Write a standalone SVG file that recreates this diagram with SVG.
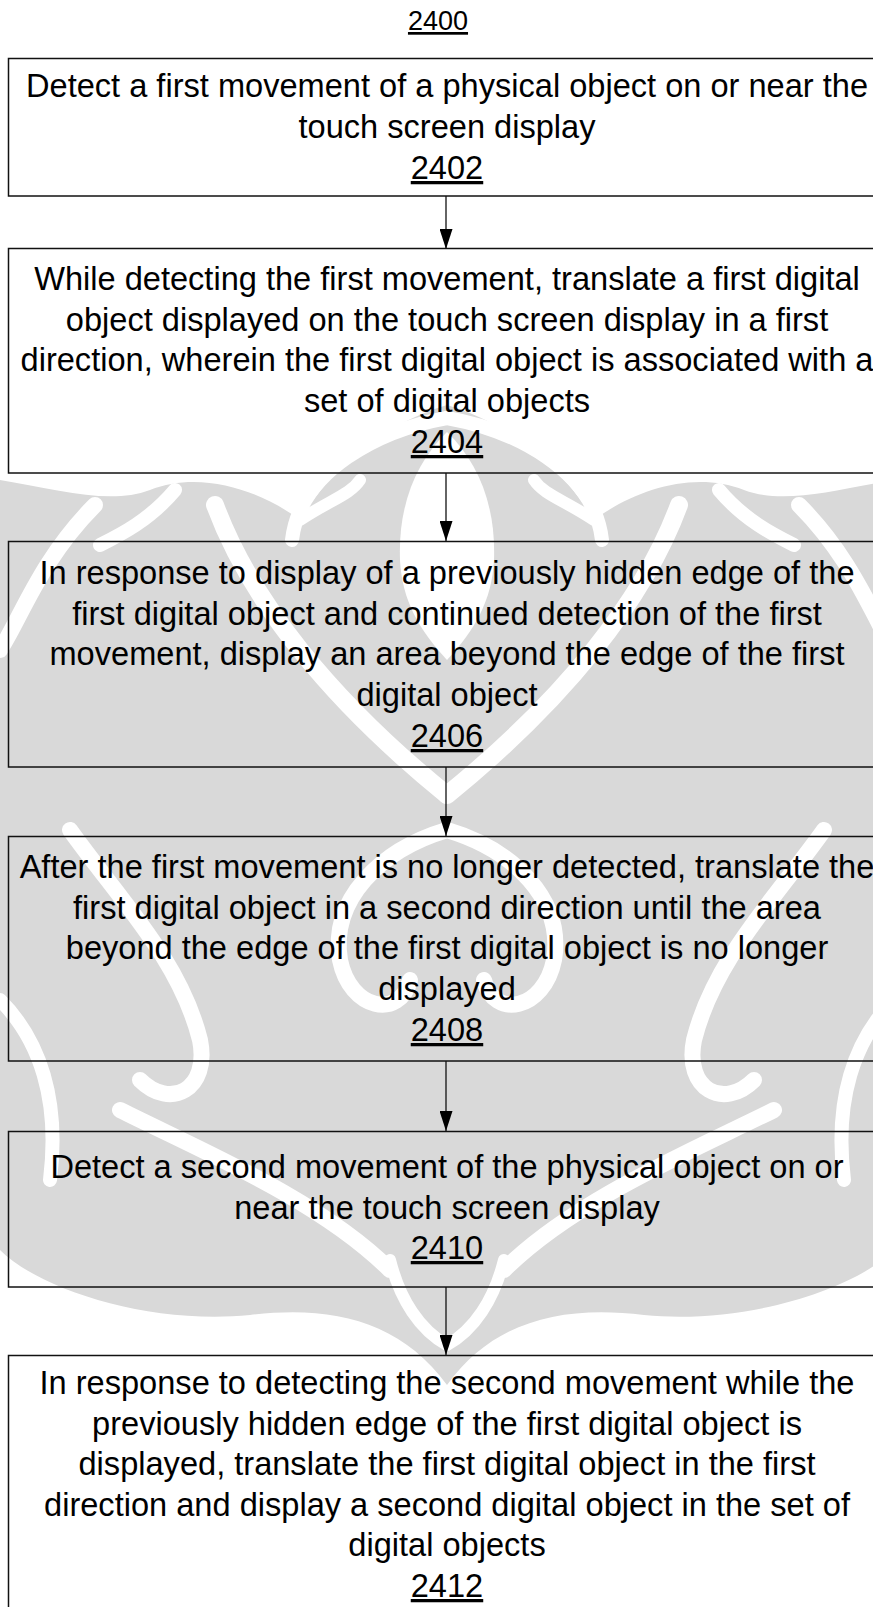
<svg xmlns="http://www.w3.org/2000/svg" xmlns:xlink="http://www.w3.org/1999/xlink" width="873" height="1607" viewBox="0 0 873 1607">
  <style>
    .box { fill: none; stroke: #111; stroke-width: 1.5; }
    .txt { font-family: "Liberation Sans", Arial, sans-serif; font-size: 32.6px; fill: #000; text-anchor: middle; }
    .num { text-decoration: underline; }
    .title { font-family: "Liberation Sans", Arial, sans-serif; font-size: 27px; fill: #000; text-anchor: middle; text-decoration: underline; }
    .conn { stroke: #111; stroke-width: 1.3; fill: none; }
    .wm { fill: #d9d9d9; }
    .wmcut { fill: none; stroke: #fff; stroke-linecap: round; }
  </style>
  <defs>
    <marker id="arrow" viewBox="0 0 20 13" refX="20" refY="6.5" markerWidth="20" markerHeight="13" markerUnits="userSpaceOnUse" orient="auto">
      <path d="M0,0 L20,6.5 L0,13 Z" fill="#000"/>
    </marker>
    <!-- left half of the background ornament, mirrored for the right half -->
    <g id="ornHalf">
      <path class="wm" d="M447,405 C380,425 330,470 300,520 C260,490 200,470 150,490 C110,505 60,490 0,480 L0,1250 C40,1290 150,1325 250,1315 C330,1305 400,1320 447,1385 Z"/>
      <path class="wmcut" stroke-width="16" d="M95,505 C40,560 20,620 0,650"/>
      <path class="wmcut" stroke-width="14" d="M175,490 C150,520 120,535 100,545"/>
      <path class="wmcut" stroke-width="18" d="M215,505 C250,600 330,700 447,795"/>
      <path class="wmcut" stroke-width="14" d="M292,540 C300,470 380,430 447,418"/>
      <path class="wmcut" stroke-width="12" d="M300,520 C330,500 350,495 360,480"/>
      <path class="wmcut" stroke-width="16" d="M70,830 C120,900 180,960 200,1040 C210,1090 170,1110 140,1080"/>
      <path class="wmcut" stroke-width="16" d="M447,830 C380,850 330,900 340,960 C350,1010 400,1020 410,980"/>
      <path class="wmcut" stroke-width="16" d="M120,1110 C200,1150 320,1200 390,1270"/>
      <path class="wmcut" stroke-width="14" d="M0,1000 C40,1040 60,1100 50,1180"/>
      <path class="wmcut" stroke-width="12" d="M390,1260 C400,1300 420,1330 447,1345"/>
    </g>
  </defs>

  <!-- background ornament -->
  <g id="ornament">
    <use xlink:href="#ornHalf"/>
    <use xlink:href="#ornHalf" transform="translate(894,0) scale(-1,1)"/>
    <path fill="#fff" d="M447,432 C478,462 496,505 494,560 C492,600 475,630 447,660 C419,630 402,600 400,560 C398,505 416,462 447,432 Z"/>
  </g>

  <text class="title" x="438" y="30">2400</text>

  <!-- connectors -->
  <g id="connectors">
    <line class="conn" x1="446" y1="196" x2="446" y2="249" marker-end="url(#arrow)"/>
    <line class="conn" x1="446" y1="473" x2="446" y2="541" marker-end="url(#arrow)"/>
    <line class="conn" x1="446" y1="767" x2="446" y2="836" marker-end="url(#arrow)"/>
    <line class="conn" x1="446" y1="1061" x2="446" y2="1131" marker-end="url(#arrow)"/>
    <line class="conn" x1="446" y1="1287" x2="446" y2="1355" marker-end="url(#arrow)"/>
  </g>

  <g id="n2402">
    <rect class="box" x="8.5" y="58.5" width="880" height="137.5"/>
    <text class="txt" x="447" y="97">Detect a first movement of a physical object on or near the</text>
    <text class="txt" x="447" y="138">touch screen display</text>
    <text class="txt num" x="447" y="179">2402</text>
  </g>

  <g id="n2404">
    <rect class="box" x="8.5" y="248.5" width="880" height="224.5"/>
    <text class="txt" x="447" y="290">While detecting the first movement, translate a first digital</text>
    <text class="txt" x="447" y="331">object displayed on the touch screen display in a first</text>
    <text class="txt" x="447" y="371">direction, wherein the first digital object is associated with a</text>
    <text class="txt" x="447" y="412">set of digital objects</text>
    <text class="txt num" x="447" y="453">2404</text>
  </g>

  <g id="n2406">
    <rect class="box" x="8.5" y="541.5" width="880" height="225.5"/>
    <text class="txt" x="447" y="584">In response to display of a previously hidden edge of the</text>
    <text class="txt" x="447" y="625">first digital object and continued detection of the first</text>
    <text class="txt" x="447" y="665">movement, display an area beyond the edge of the first</text>
    <text class="txt" x="447" y="706">digital object</text>
    <text class="txt num" x="447" y="747">2406</text>
  </g>

  <g id="n2408">
    <rect class="box" x="8.5" y="836.5" width="880" height="224.5"/>
    <text class="txt" x="447" y="878">After the first movement is no longer detected, translate the</text>
    <text class="txt" x="447" y="919">first digital object in a second direction until the area</text>
    <text class="txt" x="447" y="959">beyond the edge of the first digital object is no longer</text>
    <text class="txt" x="447" y="1000">displayed</text>
    <text class="txt num" x="447" y="1041">2408</text>
  </g>

  <g id="n2410">
    <rect class="box" x="8.5" y="1131.5" width="880" height="155.5"/>
    <text class="txt" x="447" y="1178">Detect a second movement of the physical object on or</text>
    <text class="txt" x="447" y="1219">near the touch screen display</text>
    <text class="txt num" x="447" y="1259">2410</text>
  </g>

  <g id="n2412">
    <rect class="box" x="8.5" y="1355.5" width="880" height="300"/>
    <text class="txt" x="447" y="1394">In response to detecting the second movement while the</text>
    <text class="txt" x="447" y="1435">previously hidden edge of the first digital object is</text>
    <text class="txt" x="447" y="1475">displayed, translate the first digital object in the first</text>
    <text class="txt" x="447" y="1516">direction and display a second digital object in the set of</text>
    <text class="txt" x="447" y="1556">digital objects</text>
    <text class="txt num" x="447" y="1597">2412</text>
  </g>
</svg>
